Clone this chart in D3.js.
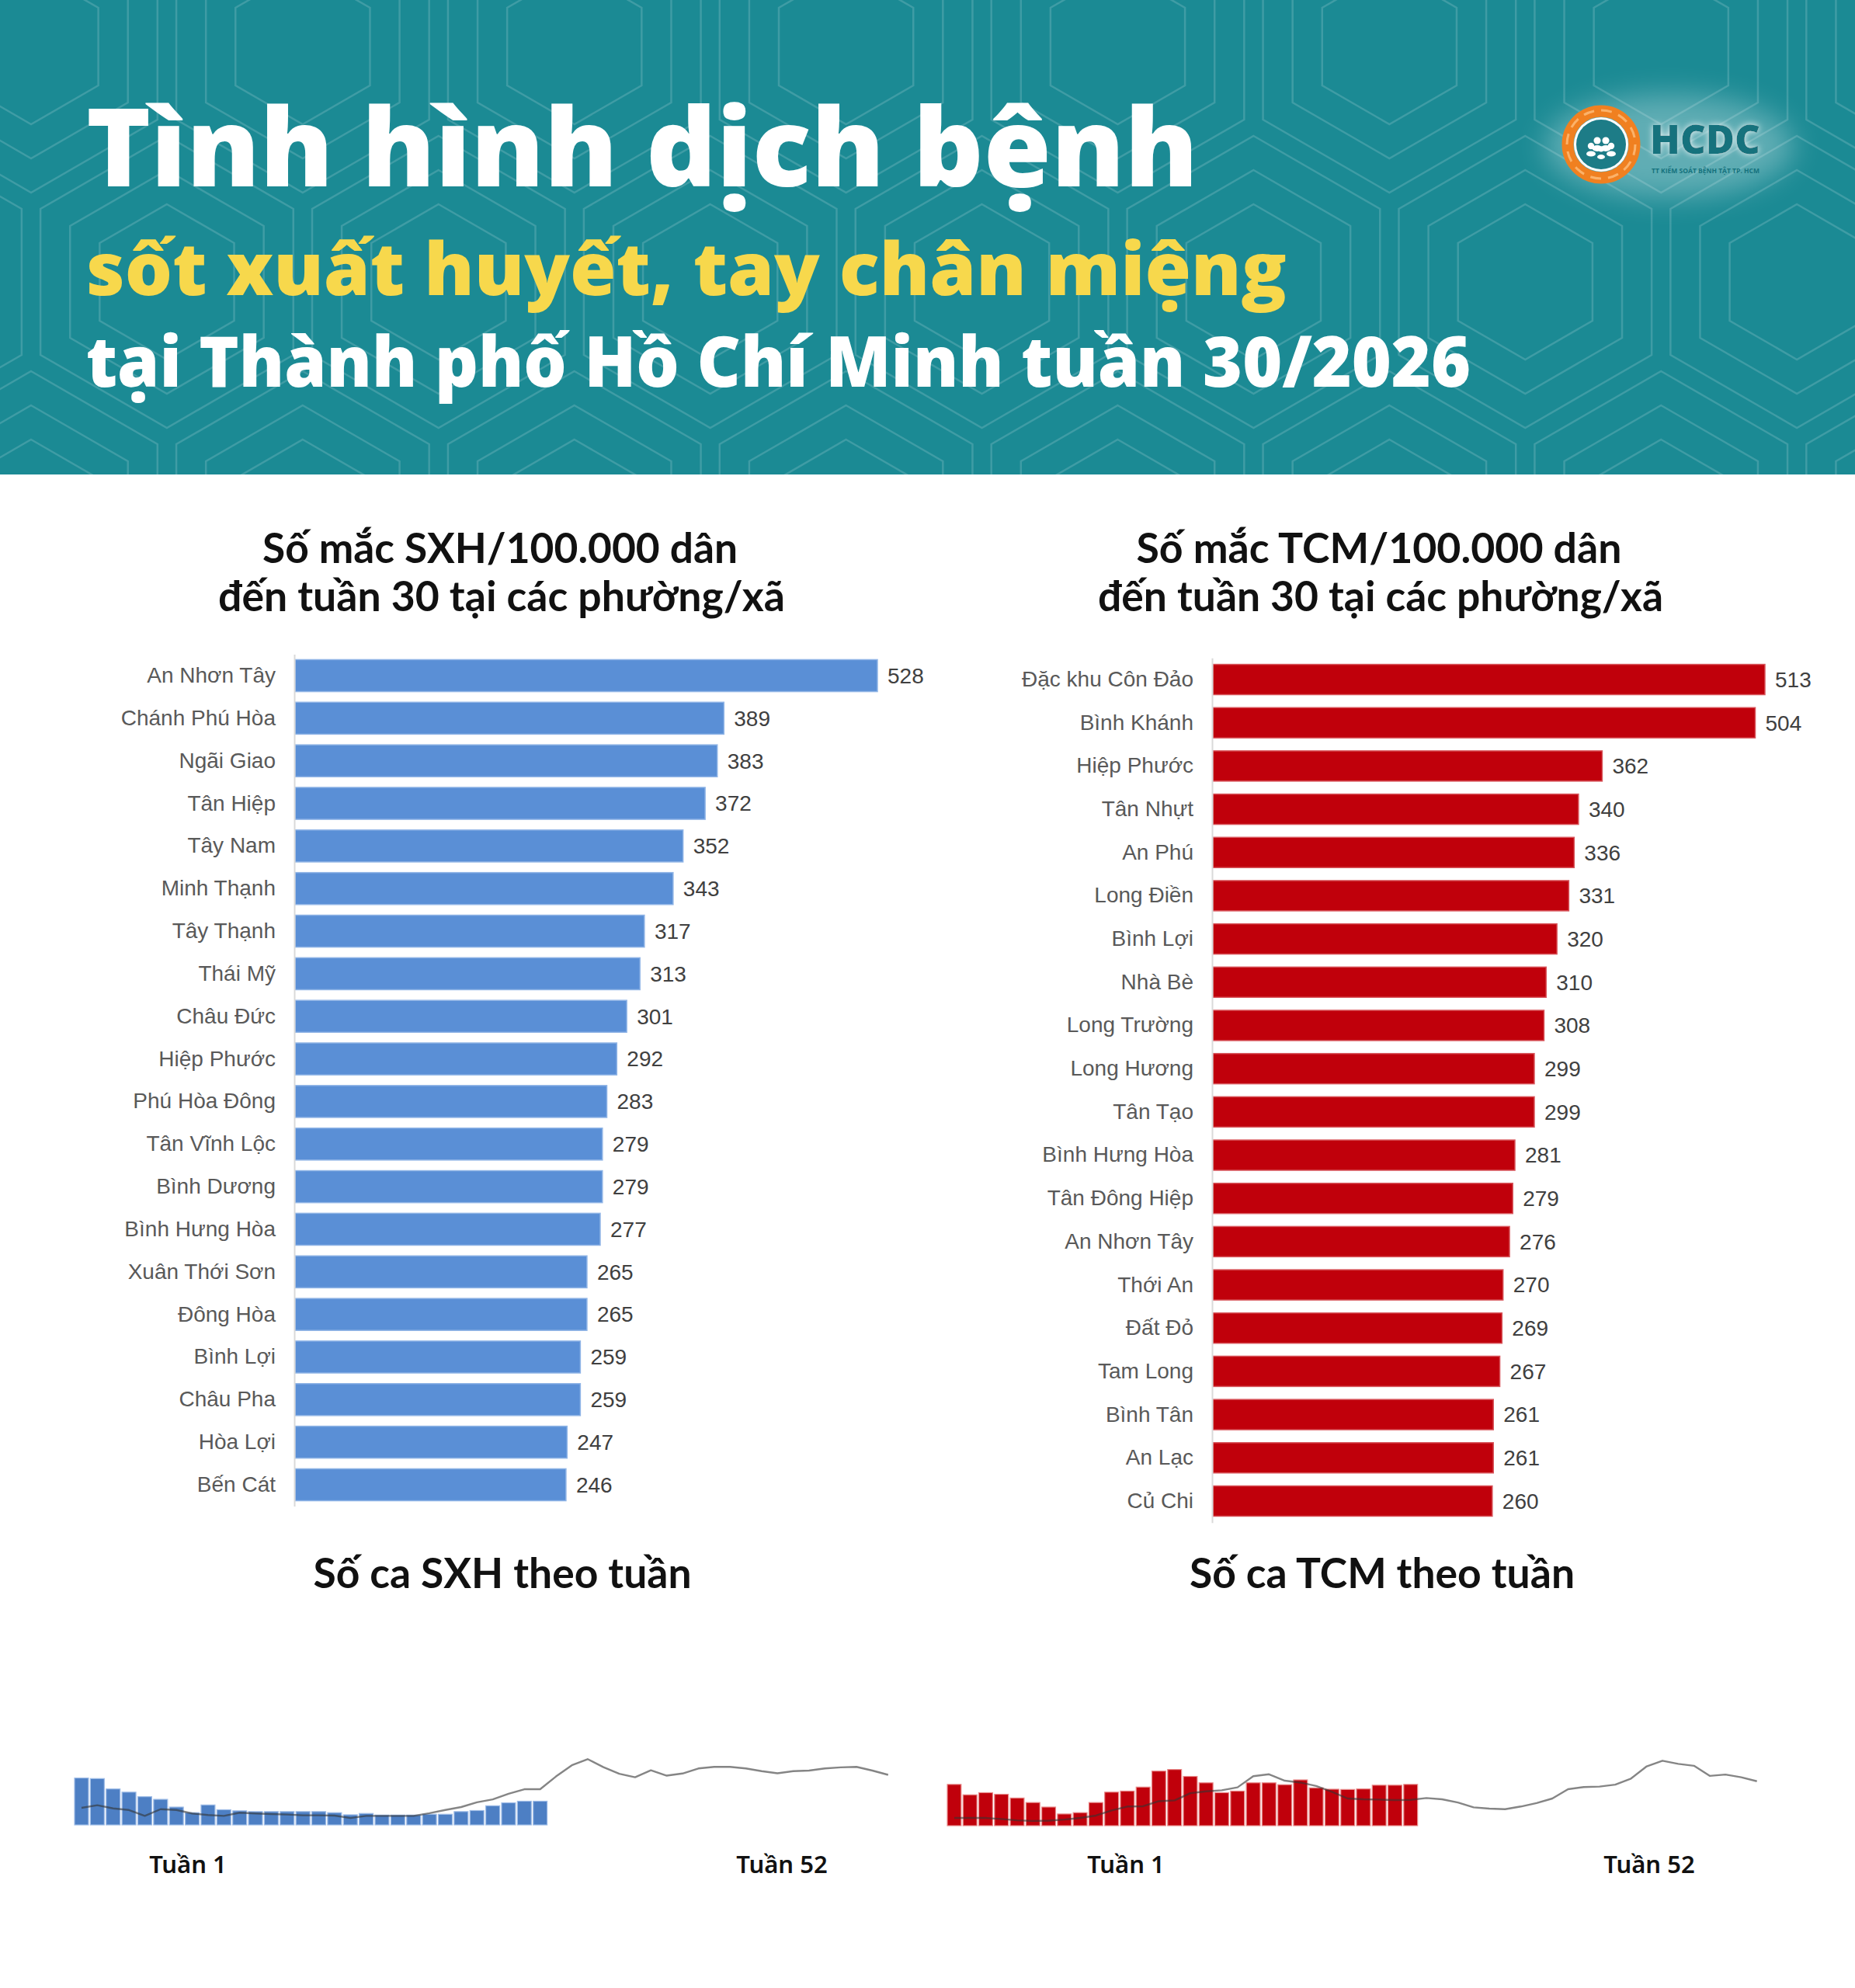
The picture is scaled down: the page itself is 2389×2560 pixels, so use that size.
<!DOCTYPE html>
<html>
<head>
<meta charset="utf-8">
<script src="https://cdn.jsdelivr.net/npm/d3@7/dist/d3.min.js"></script>
<style>
  body { margin: 0; background: #fff; }
</style>
</head>
<body>
<div id="chart"></div>
<script>
var sxhWards = ["An Nhơn Tây", "Chánh Phú Hòa", "Ngãi Giao", "Tân Hiệp", "Tây Nam", "Minh Thạnh",
  "Tây Thạnh", "Thái Mỹ", "Châu Đức", "Hiệp Phước", "Phú Hòa Đông", "Tân Vĩnh Lộc", "Bình Dương",
  "Bình Hưng Hòa", "Xuân Thới Sơn", "Đông Hòa", "Bình Lợi", "Châu Pha", "Hòa Lợi", "Bến Cát"];
var sxhRates = [528, 389, 383, 372, 352, 343, 317, 313, 301, 292, 283, 279, 279, 277, 265, 265, 259, 259, 247, 246];

var tcmWards = ["Đặc khu Côn Đảo", "Bình Khánh", "Hiệp Phước", "Tân Nhựt", "An Phú", "Long Điền",
  "Bình Lợi", "Nhà Bè", "Long Trường", "Long Hương", "Tân Tạo", "Bình Hưng Hòa", "Tân Đông Hiệp",
  "An Nhơn Tây", "Thới An", "Đất Đỏ", "Tam Long", "Bình Tân", "An Lạc", "Củ Chi"];
var tcmRates = [513, 504, 362, 340, 336, 331, 320, 310, 308, 299, 299, 281, 279, 276, 270, 269, 267, 261, 261, 260];

var weeks = [1, 2, 3, 4, 5, 6, 7, 8, 9, 10, 11, 12, 13, 14, 15, 16, 17, 18, 19, 20, 21, 22, 23, 24, 25, 26,
  27, 28, 29, 30, 31, 32, 33, 34, 35, 36, 37, 38, 39, 40, 41, 42, 43, 44, 45, 46, 47, 48, 49, 50, 51, 52];

// weekly cases this year (weeks 1-30), relative units
var sxhWeekly = [176, 174, 135, 123, 106, 96, 67, 46, 75, 57, 53, 50, 50, 50, 50, 50, 46, 38, 43, 37,
  37, 37, 40, 40, 50, 54, 72, 83, 89, 89];
// previous year line (weeks 1-52)
var sxhLastYear = [64, 74, 62, 56, 34, 59, 56, 43, 37, 34, 46, 43, 41, 39, 36, 36, 35, 26, 34, 34,
  34, 34, 44, 56, 67, 85, 96, 117, 134, 134, 182, 224, 247, 217, 192, 179, 205, 185, 193, 212,
  218, 218, 212, 202, 194, 202, 204, 212, 216, 218, 204, 188];

var tcmWeekly = [155, 116, 124, 118, 104, 87, 70, 44, 49, 87, 126, 130, 145, 205, 211, 185, 161, 124, 130, 161,
  161, 154, 172, 142, 137, 136, 138, 152, 152, 155];
var tcmLastYear = [29, 29, 29, 25, 20, 18, 19, 23, 29, 38, 57, 72, 73, 92, 95, 122, 129, 133, 144, 186,
  193, 169, 162, 149, 127, 102, 99, 98, 96, 97, 104, 99, 87, 69, 64, 62, 72, 85, 102, 137,
  145, 147, 154, 177, 223, 244, 232, 225, 187, 192, 182, 167];

var weekTickLabels = ["Tuần 1", "Tuần 52"];

// ---- Canvas ----
var W = 2389, H = 2560;
var svg = d3.select("#chart").append("svg")
  .attr("width", W).attr("height", H)
  .style("display", "block");

svg.append("rect").attr("width", W).attr("height", H).attr("fill", "#fff");

var defs = svg.append("defs");
defs.append("clipPath").attr("id", "headClip")
  .append("rect").attr("width", W).attr("height", 611);
defs.append("filter").attr("id", "blur").attr("x", "-50%").attr("y", "-50%").attr("width", "200%").attr("height", "200%")
  .append("feGaussianBlur").attr("stdDeviation", 18);
defs.append("filter").attr("id", "softGlow").attr("x", "-20%").attr("y", "-40%").attr("width", "140%").attr("height", "180%")
  .append("feDropShadow").attr("dx", 0).attr("dy", 0).attr("stdDeviation", 4)
  .attr("flood-color", "#ffffff").attr("flood-opacity", 0.9);

// ---- Header band ----
var head = svg.append("g");
head.append("rect").attr("width", W).attr("height", 611).attr("fill", "#1b8a94");

// hexagon line pattern
var pat = head.append("g").attr("clip-path", "url(#headClip)")
  .attr("fill", "none").attr("stroke", "#ffffff").attr("stroke-opacity", 0.16).attr("stroke-width", 2.5);
var R = 202, hw = Math.sqrt(3) * R;
function hexPath(cx, cy, r) {
  var pts = [];
  for (var k = 0; k < 6; k++) {
    var a = (-90 + 60 * k) * Math.PI / 180;
    pts.push([cx + r * Math.cos(a), cy + r * Math.sin(a)]);
  }
  return "M" + pts.join("L") + "Z";
}
for (var row = -1; row < 4; row++) {
  for (var col = -1; col < 9; col++) {
    var cx = col * hw + (row % 2 ? hw / 2 : 0) + 40;
    var cy = row * 1.5 * R + 60;
    [188, 144, 100].forEach(function(r) {
      pat.append("path").attr("d", hexPath(cx, cy, r));
    });
  }
}

// titles
head.append("text").attr("x", 111).attr("y", 240)
  .attr("textLength", 1432).attr("lengthAdjust", "spacingAndGlyphs")
  .style("font-family", "'Open Sans', 'Noto Sans', sans-serif").style("font-weight", 800)
  .style("font-size", "140px").attr("fill", "#fff")
  .text("Tình hình dịch bệnh");
head.append("text").attr("x", 111).attr("y", 380)
  .attr("textLength", 1546).attr("lengthAdjust", "spacingAndGlyphs")
  .style("font-family", "'Open Sans', 'Noto Sans', sans-serif").style("font-weight", 800)
  .style("font-size", "94px").attr("fill", "#f7d84c")
  .text("sốt xuất huyết, tay chân miệng");
head.append("text").attr("x", 111).attr("y", 498)
  .attr("textLength", 1783).attr("lengthAdjust", "spacingAndGlyphs")
  .style("font-family", "'Open Sans', 'Noto Sans', sans-serif").style("font-weight", 800)
  .style("font-size", "90px").attr("fill", "#fff")
  .text("tại Thành phố Hồ Chí Minh tuần 30/2026");

// logo
var logo = head.append("g");
logo.append("ellipse").attr("cx", 2150).attr("cy", 188).attr("rx", 160).attr("ry", 66)
  .attr("fill", "#fff").attr("opacity", 0.3).attr("filter", "url(#blur)");
var lx = 2062, ly = 186;
logo.append("circle").attr("cx", lx).attr("cy", ly).attr("r", 43)
  .attr("fill", "none").attr("stroke", "#f08020").attr("stroke-width", 15);
logo.append("circle").attr("cx", lx).attr("cy", ly).attr("r", 44)
  .attr("fill", "none").attr("stroke", "#fbb26a").attr("stroke-width", 3)
  .attr("stroke-dasharray", "14 9");
logo.append("circle").attr("cx", lx).attr("cy", ly).attr("r", 35).attr("fill", "#fff");
logo.append("circle").attr("cx", lx).attr("cy", ly).attr("r", 32).attr("fill", "#1d7c87");
[[-13, 10, 6], [13, 10, 6], [-5, 3, 6.5], [6, 3, 6.5], [0, 14, 5]].forEach(function(p) {
  logo.append("circle").attr("cx", lx + p[0]).attr("cy", ly + p[1] - 8).attr("r", p[2] * 0.7).attr("fill", "#fff");
  logo.append("ellipse").attr("cx", lx + p[0]).attr("cy", ly + p[1] + 2).attr("rx", p[2]).attr("ry", p[2] * 0.6).attr("fill", "#fff");
});
logo.append("text").attr("x", 2125).attr("y", 198)
  .attr("textLength", 142).attr("lengthAdjust", "spacingAndGlyphs")
  .style("font-family", "'Open Sans', sans-serif").style("font-weight", 800).style("font-size", "52px")
  .attr("fill", "#15727d").attr("filter", "url(#softGlow)")
  .text("HCDC");
logo.append("text").attr("x", 2127).attr("y", 223)
  .attr("textLength", 139).attr("lengthAdjust", "spacingAndGlyphs")
  .style("font-family", "'Open Sans', sans-serif").style("font-weight", 700).style("font-size", "9px")
  .attr("fill", "#15727d")
  .text("TT KIỂM SOÁT BỆNH TẬT TP. HCM");

// ---- Section titles ----
function sectionTitle(x, y, txt, len) {
  svg.append("text").attr("x", x).attr("y", y).attr("text-anchor", "middle")
    .attr("textLength", len).attr("lengthAdjust", "spacingAndGlyphs")
    .style("font-family", "Lato, 'Noto Sans', sans-serif").style("font-weight", 700)
    .style("font-size", "54px").attr("fill", "#111")
    .text(txt);
}
sectionTitle(644, 725, "Số mắc SXH/100.000 dân", 612);
sectionTitle(646, 787, "đến tuần 30 tại các phường/xã", 730);
sectionTitle(1776, 725, "Số mắc TCM/100.000 dân", 625);
sectionTitle(1778, 787, "đến tuần 30 tại các phường/xã", 728);
sectionTitle(647, 2045, "Số ca SXH theo tuần", 487);
sectionTitle(1780, 2045, "Số ca TCM theo tuần", 496);

// ---- Ranked horizontal bar charts ----
function drawRanking(names, values, cfg) {
  var data = names.map(function(n, i) { return { name: n, value: values[i] }; });
  var y = d3.scaleBand().domain(names).range(cfg.yRange)
    .paddingInner(cfg.pad).paddingOuter(cfg.pad / 2);
  var x = d3.scaleLinear().domain([0, d3.max(values)]).range(cfg.xRange);
  var g = svg.append("g");

  g.selectAll("rect.bar").data(data).enter().append("rect")
    .attr("class", "bar")
    .attr("x", x(0) + 1)
    .attr("y", function(d) { return y(d.name); })
    .attr("width", function(d) { return x(d.value) - x(0) - 1; })
    .attr("height", y.bandwidth())
    .attr("fill", cfg.color)
    .attr("stroke", cfg.edge).attr("stroke-width", 1.5);

  var ax = g.append("g").attr("transform", "translate(" + x(0) + ",0)")
    .call(d3.axisLeft(y).tickSize(0).tickPadding(24));
  ax.select(".domain").attr("stroke", "#d9d9d9").attr("stroke-width", 2);
  ax.selectAll("text")
    .style("font-family", "'Liberation Sans', Arial, sans-serif")
    .style("font-size", "28px").attr("fill", "#595959");

  g.selectAll("text.val").data(data).enter().append("text")
    .attr("class", "val")
    .attr("x", function(d) { return x(d.value) + 13; })
    .attr("y", function(d) { return y(d.name) + y.bandwidth() / 2; })
    .attr("dy", "0.35em")
    .style("font-family", "'Liberation Sans', Arial, sans-serif")
    .style("font-size", "28px").attr("fill", "#404040")
    .text(function(d) { return d.value; });
}

drawRanking(sxhWards, sxhRates, {
  yRange: [842.6, 1939.4], xRange: [379, 1130], pad: 0.25,
  color: "#5a8fd6", edge: "#8fb4e6"
});
drawRanking(tcmWards, tcmRates, {
  yRange: [847.2, 1960.8], xRange: [1561, 2273], pad: 0.3,
  color: "#c0000b", edge: "#d8555b"
});

// ---- Weekly case mini charts ----
function drawWeekly(thisYear, lastYear, cfg) {
  var x = d3.scaleBand().domain(weeks).range(cfg.xRange)
    .paddingInner(0.12).paddingOuter(0.06);
  var y = d3.scaleLinear().domain([0, 250]).range([cfg.base, cfg.base - 250 * 0.343]);
  var g = svg.append("g");

  var bars = thisYear.map(function(v, i) { return { week: weeks[i], value: v }; });
  var line = lastYear.map(function(v, i) { return { week: weeks[i], value: v }; });

  g.selectAll("rect").data(bars).enter().append("rect")
    .attr("x", function(d) { return x(d.week); })
    .attr("y", function(d) { return y(d.value); })
    .attr("width", x.bandwidth())
    .attr("height", function(d) { return y(0) - y(d.value); })
    .attr("fill", cfg.color)
    .attr("stroke", cfg.edge).attr("stroke-width", 1.2);

  g.append("path").datum(line)
    .attr("fill", "none")
    .attr("stroke", "#333").attr("stroke-opacity", 0.6).attr("stroke-width", 2.4)
    .attr("stroke-linejoin", "round")
    .attr("d", d3.line()
      .x(function(d) { return x(d.week) + x.bandwidth() / 2; })
      .y(function(d) { return y(d.value); }));

  g.selectAll("text").data(weekTickLabels).enter().append("text")
    .attr("x", function(d, i) { return cfg.labelX[i]; })
    .attr("y", 2412)
    .attr("text-anchor", "middle")
    .style("font-family", "'Noto Sans', sans-serif").style("font-weight", 600)
    .style("font-size", "31px").attr("fill", "#111")
    .text(function(d) { return d; });
}

drawWeekly(sxhWeekly, sxhLastYear, {
  xRange: [94.8, 1154], base: 2350, color: "#4d7fc4", edge: "#9dbbe6", labelX: [242, 1007]
});
drawWeekly(tcmWeekly, tcmLastYear, {
  xRange: [1218.8, 2272.8], base: 2351, color: "#c0000b", edge: "#e88a8a", labelX: [1450, 2124]
});
</script>
</body>
</html>
